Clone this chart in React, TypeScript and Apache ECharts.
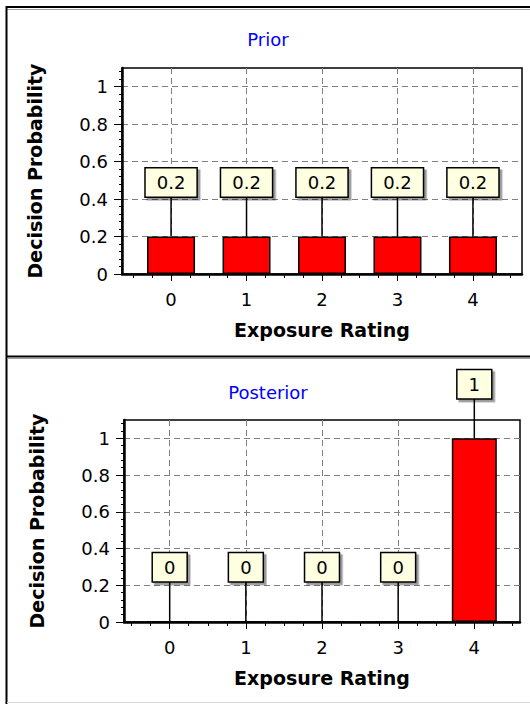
import React, { useEffect, useRef } from 'react';
import * as echarts from 'echarts';

const categories = [0, 1, 2, 3, 4];
const priorValues = [0.2, 0.2, 0.2, 0.2, 0.2];
const posteriorValues = [0, 0, 0, 0, 1];
const yTicks = [0, 0.2, 0.4, 0.6, 0.8, 1];
const yMinorTicks = [0.04, 0.08, 0.12, 0.16, 0.24, 0.28, 0.32, 0.36, 0.44, 0.48, 0.52, 0.56, 0.64, 0.68, 0.72, 0.76, 0.84, 0.88, 0.92, 0.96, 1.04, 1.08];
const xMinorTicks = [-0.5, -0.25, 0.25, 0.5, 0.75, 1.25, 1.5, 1.75, 2.25, 2.5, 2.75, 3.25, 3.5, 3.75, 4.25, 4.5];
const titles = ['Prior', 'Posterior'];
const xName = 'Exposure Rating';
const yName = 'Decision Probability';

const FONT = 'DejaVu Sans';

function buildOption() {
  const panels = [
    { title: titles[0], values: priorValues, rect: { left: 122, top: 68, width: 400, height: 206 }, xMin: -0.65, xMax: 4.65, barWidth: 48, titleY: 39 },
    { title: titles[1], values: posteriorValues, rect: { left: 124, top: 420, width: 396, height: 202 }, xMin: -0.6, xMax: 4.6, barWidth: 45, titleY: 392 },
  ];
  const grid: any[] = [];
  const xAxis: any[] = [];
  const yAxis: any[] = [];
  const series: any[] = [];
  const graphic: any[] = [
    { type: 'rect', shape: { x: 0, y: 0, width: 530, height: 704 }, style: { fill: '#fff' }, z: -10, silent: true },
    { type: 'line', shape: { x1: 6, y1: 7, x2: 530, y2: 7 }, style: { stroke: '#000', lineWidth: 2 } },
    { type: 'line', shape: { x1: 7, y1: 9.5, x2: 530, y2: 9.5 }, style: { stroke: '#a0a0a0', lineWidth: 1 } },
    { type: 'line', shape: { x1: 6.5, y1: 6, x2: 6.5, y2: 704 }, style: { stroke: '#000', lineWidth: 2 } },
    { type: 'line', shape: { x1: 6, y1: 356.5, x2: 530, y2: 356.5 }, style: { stroke: '#000', lineWidth: 2 } },
    { type: 'line', shape: { x1: 7, y1: 358.5, x2: 530, y2: 358.5 }, style: { stroke: '#a0a0a0', lineWidth: 1 } },
    { type: 'line', shape: { x1: 7, y1: 702.5, x2: 530, y2: 702.5 }, style: { stroke: '#d8d8d8', lineWidth: 1 } },
  ];

  panels.forEach((p, i) => {
    const gMain = 2 * i;
    const gOver = 2 * i + 1;
    grid.push({ ...p.rect, show: true, borderColor: '#000', borderWidth: 1.5, backgroundColor: 'transparent' });
    grid.push({ ...p.rect, show: false });

    xAxis.push({
      type: 'value', gridIndex: gMain, min: p.xMin, max: p.xMax, position: 'bottom',
      name: xName, nameLocation: 'middle', nameGap: 46,
      nameTextStyle: { fontFamily: FONT, fontWeight: 'bold', fontSize: 19, color: '#000' },
      axisLine: { show: true, onZero: false, lineStyle: { color: '#000', width: 2.5 } },
      axisTick: { show: true, customValues: categories, length: 7, lineStyle: { color: '#000', width: 1 } },
      axisLabel: { show: true, customValues: categories, margin: 16, fontFamily: FONT, fontSize: 18, color: '#000' },
      splitLine: { show: true, lineStyle: { color: '#808080', type: [6, 4], width: 1 } },
    });
    xAxis.push({
      type: 'value', gridIndex: gOver, min: p.xMin, max: p.xMax, position: 'bottom',
      axisLine: { show: false, onZero: false },
      axisTick: { show: true, customValues: xMinorTicks, length: 4, lineStyle: { color: '#000', width: 1 } },
      axisLabel: { show: false },
      splitLine: { show: false },
    });
    yAxis.push({
      type: 'value', gridIndex: gMain, min: 0, max: 1.1, interval: 0.2, position: 'left',
      name: yName, nameLocation: 'middle', nameGap: 78,
      nameTextStyle: { fontFamily: FONT, fontWeight: 'bold', fontSize: 19, color: '#000' },
      axisLine: { show: true, onZero: false, lineStyle: { color: '#000', width: 2.5 } },
      axisTick: { show: true, customValues: yTicks, length: 8, lineStyle: { color: '#000', width: 1 } },
      axisLabel: { show: true, customValues: yTicks, margin: 14, fontFamily: FONT, fontSize: 18, color: '#000' },
      splitLine: { show: true, lineStyle: { color: '#808080', type: [6, 4], width: 1 } },
    });
    yAxis.push({
      type: 'value', gridIndex: gOver, min: 0, max: 1.1, position: 'left',
      axisLine: { show: false, onZero: false },
      axisTick: { show: true, customValues: yMinorTicks, length: 3, lineStyle: { color: '#000', width: 1 } },
      axisLabel: { show: false },
      splitLine: { show: false },
    });

    const data = p.values.map((v, k) => [categories[k], v]);
    series.push({
      type: 'custom', xAxisIndex: gMain, yAxisIndex: gMain, data, z: 2,
      renderItem: (_params: any, api: any) => {
        const pt = api.coord([api.value(0), api.value(1)]);
        return {
          type: 'line',
          shape: { x1: pt[0], y1: pt[1], x2: pt[0], y2: pt[1] - 40 },
          style: { stroke: '#000', lineWidth: 1.5 },
        };
      },
    });
    series.push({
      type: 'bar', xAxisIndex: gMain, yAxisIndex: gMain, data, barWidth: p.barWidth, z: 3,
      itemStyle: { color: '#FF0000', borderColor: '#000', borderWidth: 1.5 },
      label: {
        show: true, position: 'top', distance: 40,
        formatter: (prm: any) => String(prm.value[1]),
        fontFamily: FONT, fontSize: 18, color: '#000', lineHeight: 20,
        backgroundColor: '#FFFFE1', borderColor: '#000', borderWidth: 1.5,
        padding: [4, 11, 4, 11],
        shadowColor: 'rgba(0,0,0,0.4)', shadowOffsetX: 2.5, shadowOffsetY: 2.5, shadowBlur: 1,
      },
    });

    graphic.push({
      type: 'text', x: 268, y: p.titleY,
      style: { text: p.title, fill: '#0000FF', fontFamily: FONT, fontSize: 18, textAlign: 'center', textVerticalAlign: 'middle', align: 'center', verticalAlign: 'middle' },
    });
  });

  return { animation: false, backgroundColor: '#fff', grid, xAxis, yAxis, series, graphic };
}

export default function App() {
  const ref = useRef<HTMLDivElement>(null);
  useEffect(() => {
    if (!ref.current) return;
    const chart = echarts.init(ref.current, undefined, { renderer: 'svg' });
    chart.setOption(buildOption() as any);
    return () => chart.dispose();
  }, []);
  return <div ref={ref} style={{ position: 'absolute', left: 0, top: 0, width: 530, height: 704 }} />;
}
